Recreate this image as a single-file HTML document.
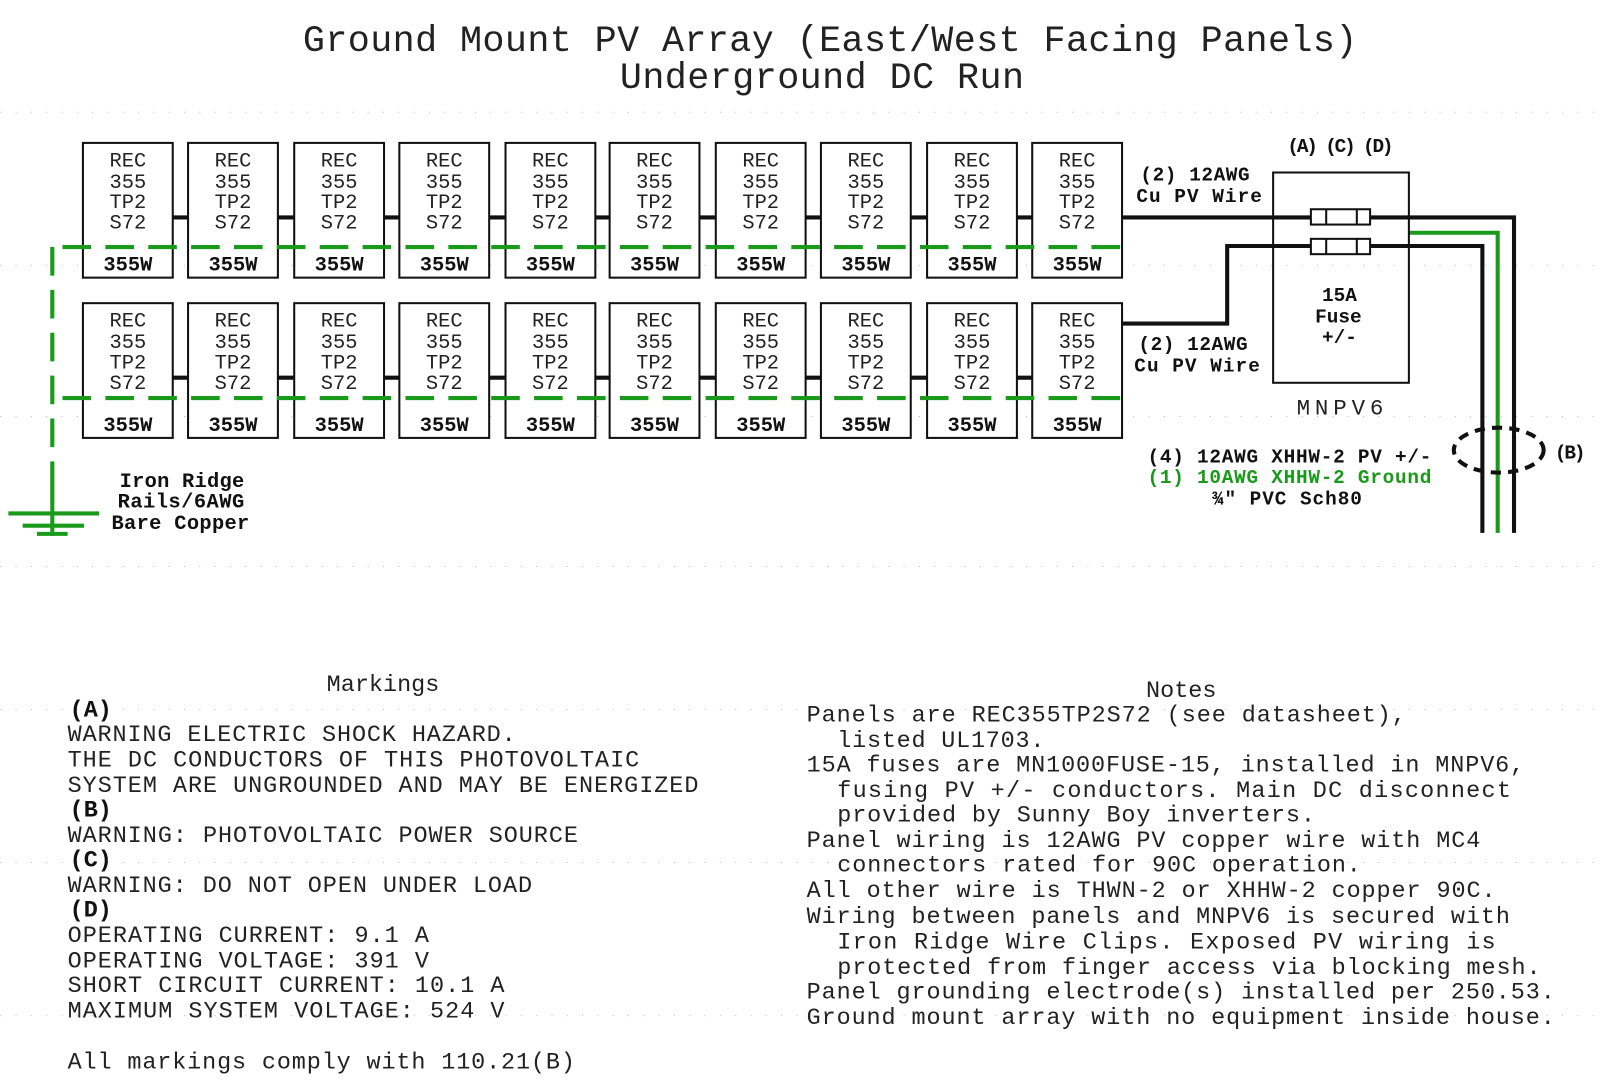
<!DOCTYPE html>
<html><head><meta charset="utf-8"><style>
html,body{margin:0;padding:0;background:#fff}
svg{display:block}
text{font-family:"Liberation Mono","Courier New",monospace;fill:#222}
.b{font-weight:bold;fill:#111}
</style></head><body>
<svg width="1600" height="1082" viewBox="0 0 1567 1060" xmlns="http://www.w3.org/2000/svg">
<g stroke="#bbb" stroke-width="1" stroke-dasharray="1 14">
<line x1="0" y1="110" x2="1600" y2="110"/><line x1="0" y1="260" x2="1600" y2="260"/>
<line x1="0" y1="408" x2="1600" y2="408"/><line x1="0" y1="555" x2="1600" y2="555"/>
<line x1="0" y1="695" x2="1600" y2="695"/><line x1="0" y1="845" x2="1600" y2="845"/>
<line x1="0" y1="995" x2="1600" y2="995"/>
</g>
<text x="813" y="50" font-size="36" text-anchor="middle" textLength="1033" lengthAdjust="spacing">Ground Mount PV Array (East/West Facing Panels)</text>
<text x="805" y="86" font-size="36" text-anchor="middle" textLength="396" lengthAdjust="spacing">Underground DC Run</text>

<g stroke="#111" stroke-width="4">
<line x1="169" y1="213" x2="1011" y2="213"/>
<line x1="169" y1="370" x2="1011" y2="370"/>
</g>
<g fill="#fff" stroke="#111" stroke-width="2">
<rect x="81" y="140" width="88" height="132"/><rect x="184" y="140" width="88" height="132"/><rect x="288" y="140" width="88" height="132"/><rect x="391" y="140" width="88" height="132"/><rect x="495" y="140" width="88" height="132"/><rect x="597" y="140" width="88" height="132"/><rect x="701" y="140" width="88" height="132"/><rect x="804" y="140" width="88" height="132"/><rect x="908" y="140" width="88" height="132"/><rect x="1011" y="140" width="88" height="132"/>
<rect x="81" y="297" width="88" height="132"/><rect x="184" y="297" width="88" height="132"/><rect x="288" y="297" width="88" height="132"/><rect x="391" y="297" width="88" height="132"/><rect x="495" y="297" width="88" height="132"/><rect x="597" y="297" width="88" height="132"/><rect x="701" y="297" width="88" height="132"/><rect x="804" y="297" width="88" height="132"/><rect x="908" y="297" width="88" height="132"/><rect x="1011" y="297" width="88" height="132"/>
</g>
<g font-size="20" text-anchor="middle">
<g id="t1">
<text x="125" y="163">REC</text><text x="125" y="184">355</text><text x="125" y="204">TP2</text><text x="125" y="224">S72</text><text x="125" y="265" class="b">355W</text>
<text x="228" y="163">REC</text><text x="228" y="184">355</text><text x="228" y="204">TP2</text><text x="228" y="224">S72</text><text x="228" y="265" class="b">355W</text>
<text x="332" y="163">REC</text><text x="332" y="184">355</text><text x="332" y="204">TP2</text><text x="332" y="224">S72</text><text x="332" y="265" class="b">355W</text>
<text x="435" y="163">REC</text><text x="435" y="184">355</text><text x="435" y="204">TP2</text><text x="435" y="224">S72</text><text x="435" y="265" class="b">355W</text>
<text x="539" y="163">REC</text><text x="539" y="184">355</text><text x="539" y="204">TP2</text><text x="539" y="224">S72</text><text x="539" y="265" class="b">355W</text>
<text x="641" y="163">REC</text><text x="641" y="184">355</text><text x="641" y="204">TP2</text><text x="641" y="224">S72</text><text x="641" y="265" class="b">355W</text>
<text x="745" y="163">REC</text><text x="745" y="184">355</text><text x="745" y="204">TP2</text><text x="745" y="224">S72</text><text x="745" y="265" class="b">355W</text>
<text x="848" y="163">REC</text><text x="848" y="184">355</text><text x="848" y="204">TP2</text><text x="848" y="224">S72</text><text x="848" y="265" class="b">355W</text>
<text x="952" y="163">REC</text><text x="952" y="184">355</text><text x="952" y="204">TP2</text><text x="952" y="224">S72</text><text x="952" y="265" class="b">355W</text>
<text x="1055" y="163">REC</text><text x="1055" y="184">355</text><text x="1055" y="204">TP2</text><text x="1055" y="224">S72</text><text x="1055" y="265" class="b">355W</text>
</g>
<use href="#t1" y="157"/>
</g>
<g stroke="#1a9a1a" stroke-width="4" fill="none">
<path d="M51 242 H1098" stroke-dasharray="28 14" stroke-dashoffset="-10"/>
<path d="M51 390 H1098" stroke-dasharray="28 14" stroke-dashoffset="-10"/>
<path d="M51 242 V460" stroke-dasharray="28 14"/>
<line x1="51" y1="460" x2="51" y2="525"/>
<line x1="8" y1="503" x2="97" y2="503"/>
<line x1="22" y1="515" x2="82" y2="515"/>
<line x1="36" y1="523" x2="66" y2="523"/>
</g>
<g font-size="20">
<text x="117" y="477" class="b" textLength="122" lengthAdjust="spacing">Iron Ridge</text>
<text x="115" y="497" class="b" textLength="124" lengthAdjust="spacing">Rails/6AWG</text>
<text x="109" y="518" class="b" textLength="135" lengthAdjust="spacing">Bare Copper</text>
</g>
<g stroke="#111" stroke-width="4" fill="none">
<path d="M1099 213 H1483 V522"/>
<path d="M1099 317 H1202 V241 H1452 V522"/>
</g>
<path d="M1380 228 H1467 V522" stroke="#1a9a1a" stroke-width="4" fill="none"/>
<rect x="1247" y="169" width="133" height="206" fill="none" stroke="#111" stroke-width="2"/>
<g fill="#fff" stroke="#111" stroke-width="2">
<rect x="1284" y="205" width="58" height="15"/><rect x="1284" y="234" width="58" height="15"/>
<line x1="1299" y1="205" x2="1299" y2="220"/><line x1="1329" y1="205" x2="1329" y2="220"/>
<line x1="1299" y1="234" x2="1299" y2="249"/><line x1="1329" y1="234" x2="1329" y2="249"/>
</g>
<ellipse cx="1468" cy="441" rx="44" ry="22" fill="none" stroke="#111" stroke-width="4" stroke-dasharray="10 7"/>
<g font-size="19">
<text x="1261" y="149" class="b" textLength="104" lengthAdjust="spacing">(A) (C) (D)</text>
<text x="1117" y="177" class="b" textLength="107" lengthAdjust="spacing">(2) 12AWG</text>
<text x="1113" y="198" class="b" textLength="123" lengthAdjust="spacing">Cu PV Wire</text>
<text x="1115" y="343" class="b" textLength="107" lengthAdjust="spacing">(2) 12AWG</text>
<text x="1111" y="364" class="b" textLength="123" lengthAdjust="spacing">Cu PV Wire</text>
<text x="1312" y="295" class="b" text-anchor="middle">15A</text>
<text x="1311" y="316" class="b" text-anchor="middle">Fuse</text>
<text x="1312" y="336" class="b" text-anchor="middle">+/-</text>
<text x="1124" y="453" class="b" textLength="278" lengthAdjust="spacing">(4) 12AWG XHHW-2 PV +/-</text>
<text x="1124" y="473" class="b" style="fill:#1a9a1a" textLength="278" lengthAdjust="spacing">(1) 10AWG XHHW-2 Ground</text>
<text x="1187" y="494" class="b" textLength="147" lengthAdjust="spacing">¾" PVC Sch80</text>
<text x="1523" y="449" class="b" textLength="30" lengthAdjust="spacing">(B)</text>
</g>
<text x="1270" y="406" font-size="22" textLength="85" lengthAdjust="spacing">MNPV6</text>
<g font-size="23">
<text x="375" y="677" text-anchor="middle">Markings</text>
<text x="68" y="702" class="b">(A)</text>
<text x="66" y="726" textLength="439" lengthAdjust="spacing">WARNING ELECTRIC SHOCK HAZARD.</text>
<text x="66" y="751" textLength="560" lengthAdjust="spacing">THE DC CONDUCTORS OF THIS PHOTOVOLTAIC</text>
<text x="66" y="776" textLength="618" lengthAdjust="spacing">SYSTEM ARE UNGROUNDED AND MAY BE ENERGIZED</text>
<text x="68" y="800" class="b">(B)</text>
<text x="66" y="825" textLength="500" lengthAdjust="spacing">WARNING: PHOTOVOLTAIC POWER SOURCE</text>
<text x="68" y="849" class="b">(C)</text>
<text x="66" y="874" textLength="455" lengthAdjust="spacing">WARNING: DO NOT OPEN UNDER LOAD</text>
<text x="68" y="898" class="b">(D)</text>
<text x="66" y="923" textLength="354" lengthAdjust="spacing">OPERATING CURRENT: 9.1 A</text>
<text x="66" y="948" textLength="354" lengthAdjust="spacing">OPERATING VOLTAGE: 391 V</text>
<text x="66" y="972" textLength="428" lengthAdjust="spacing">SHORT CIRCUIT CURRENT: 10.1 A</text>
<text x="66" y="997" textLength="428" lengthAdjust="spacing">MAXIMUM SYSTEM VOLTAGE: 524 V</text>
<text x="66" y="1047" textLength="497" lengthAdjust="spacing">All markings comply with 110.21(B)</text>
<text x="1157" y="683" text-anchor="middle">Notes</text>
<text x="790" y="707" textLength="587" lengthAdjust="spacing">Panels are REC355TP2S72 (see datasheet),</text>
<text x="820" y="732" textLength="203" lengthAdjust="spacing">listed UL1703.</text>
<text x="790" y="756" textLength="703" lengthAdjust="spacing">15A fuses are MN1000FUSE-15, installed in MNPV6,</text>
<text x="820" y="781" textLength="660" lengthAdjust="spacing">fusing PV +/- conductors.  Main DC disconnect</text>
<text x="820" y="805" textLength="468" lengthAdjust="spacing">provided by Sunny Boy inverters.</text>
<text x="790" y="830" textLength="660" lengthAdjust="spacing">Panel wiring is 12AWG PV copper wire with MC4</text>
<text x="820" y="854" textLength="513" lengthAdjust="spacing">connectors rated for 90C operation.</text>
<text x="790" y="879" textLength="675" lengthAdjust="spacing">All other wire is THWN-2 or XHHW-2 copper 90C.</text>
<text x="790" y="904" textLength="689" lengthAdjust="spacing">Wiring between panels and MNPV6 is secured with</text>
<text x="820" y="929" textLength="645" lengthAdjust="spacing">Iron Ridge Wire Clips.  Exposed PV wiring is</text>
<text x="820" y="954" textLength="689" lengthAdjust="spacing">protected from finger access via blocking mesh.</text>
<text x="790" y="978" textLength="733" lengthAdjust="spacing">Panel grounding electrode(s) installed per 250.53.</text>
<text x="790" y="1003" textLength="733" lengthAdjust="spacing">Ground mount array with no equipment inside house.</text>
</g>
</svg>
</body></html>
